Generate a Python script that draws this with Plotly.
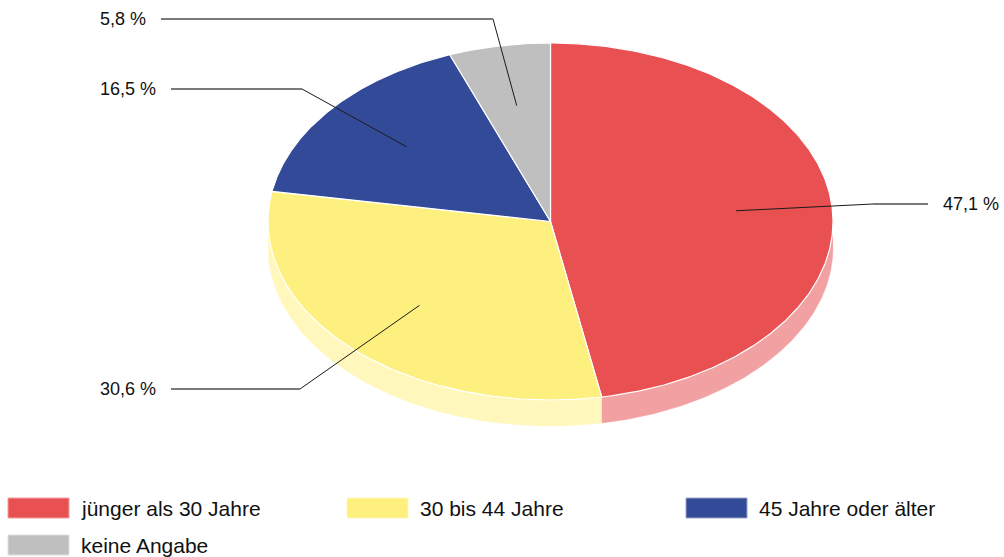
import numpy as np
import plotly.graph_objects as go

# ---------------- data ----------------
categories = ["jünger als 30 Jahre", "30 bis 44 Jahre", "45 Jahre oder älter", "keine Angabe"]
values = [47.1, 30.6, 16.5, 5.8]
value_labels = ["47,1 %", "30,6 %", "16,5 %", "5,8 %"]

# ---------------- styles / layout constants ----------------
top_colors = ["#E85052", "#FDF07F", "#334A98", "#BFBFBF"]
side_colors = ["#F2A1A2", "#FFF7BC", "#99A4CB", "#DFDFDF"]

W, H = 1004, 557
CX, CY, RX, RY, DEPTH = 550.5, 221.5, 282.5, 178.5, 26.0
LEADER_R = 0.66
# per slice: (text x, label y, bend x, outer line end x)
label_layout = [(941, 204, 873, 928), (98, 389, 300, 171), (98, 89, 302, 171), (98, 19, 493, 161)]
# legend: (box left x, row center y)
legend_layout = [(8, 508), (347, 508), (686, 508), (8, 545)]
BOX_W, BOX_H, TEXT_GAP = 61, 20, 71
FONT = "Liberation Sans, Arial, sans-serif"


def ell(theta_deg, r=1.0, dy=0.0):
    t = np.radians(theta_deg)
    return CX + r * RX * np.sin(t), CY - r * RY * np.cos(t) + dy


fig = go.Figure()

total = float(sum(values))
bounds = []
acc = 0.0
for v in values:
    a0 = acc / total * 360.0
    acc += v
    a1 = acc / total * 360.0
    bounds.append((a0, a1))

# sides (visible front half: 90..270 degrees clockwise from top)
for (a0, a1), sc in zip(bounds, side_colors):
    s, e = max(a0, 90.0), min(a1, 270.0)
    if e <= s:
        continue
    th = np.linspace(s, e, 200)
    xt, yt = ell(th)
    xb, yb = ell(th[::-1], dy=DEPTH)
    fig.add_trace(go.Scatter(
        x=np.concatenate([xt, xb]), y=np.concatenate([yt, yb]),
        fill="toself", fillcolor=sc, mode="lines",
        line=dict(color=sc, width=0.5), hoverinfo="skip", showlegend=False))

# tops
for (a0, a1), tc, name in zip(bounds, top_colors, categories):
    th = np.linspace(a0, a1, 300)
    xa, ya = ell(th)
    fig.add_trace(go.Scatter(
        x=np.concatenate([[CX], xa, [CX]]), y=np.concatenate([[CY], ya, [CY]]),
        fill="toself", fillcolor=tc, mode="lines",
        line=dict(color="white", width=1.2), hoverinfo="skip", showlegend=False, name=name))

# leader lines + labels
annotations = []
for (a0, a1), lab, (tx, ly, bx, ex) in zip(bounds, value_labels, label_layout):
    mid = (a0 + a1) / 2.0
    px, py = ell(mid, r=LEADER_R)
    fig.add_trace(go.Scatter(x=[px, bx], y=[py, ly], mode="lines",
                             line=dict(color="#1a1a1a", width=1), hoverinfo="skip", showlegend=False))
    fig.add_trace(go.Scatter(x=[bx, ex], y=[ly, ly], mode="lines",
                             line=dict(color="#7a7a7a", width=2), hoverinfo="skip", showlegend=False))
    annotations.append(dict(x=tx, y=ly, xref="x", yref="y", text=lab, showarrow=False,
                            xanchor="left", yanchor="middle",
                            font=dict(family=FONT, size=18, color="#111111")))

# legend (drawn manually)
shapes = []
for name, tc, sc, (lx, ly) in zip(categories, top_colors, side_colors, legend_layout):
    shapes.append(dict(type="rect", xref="x", yref="y", x0=lx, x1=lx + BOX_W,
                       y0=ly - BOX_H / 2, y1=ly + BOX_H / 2,
                       fillcolor=tc, line=dict(color=sc, width=1), layer="above"))
    annotations.append(dict(x=lx + TEXT_GAP, y=ly, xref="x", yref="y", text=name, showarrow=False,
                            xanchor="left", yanchor="middle",
                            font=dict(family=FONT, size=21, color="#111111")))

fig.update_layout(
    width=W, height=H, margin=dict(l=0, r=0, t=0, b=0),
    paper_bgcolor="white", plot_bgcolor="white",
    xaxis=dict(range=[0, W], visible=False, fixedrange=True),
    yaxis=dict(range=[H, 0], visible=False, fixedrange=True),
    shapes=shapes, annotations=annotations, showlegend=False,
)

fig.write_html("out.html", config={"displayModeBar": False},
               post_script="document.body.style.margin='0';document.body.style.overflow='hidden';")
